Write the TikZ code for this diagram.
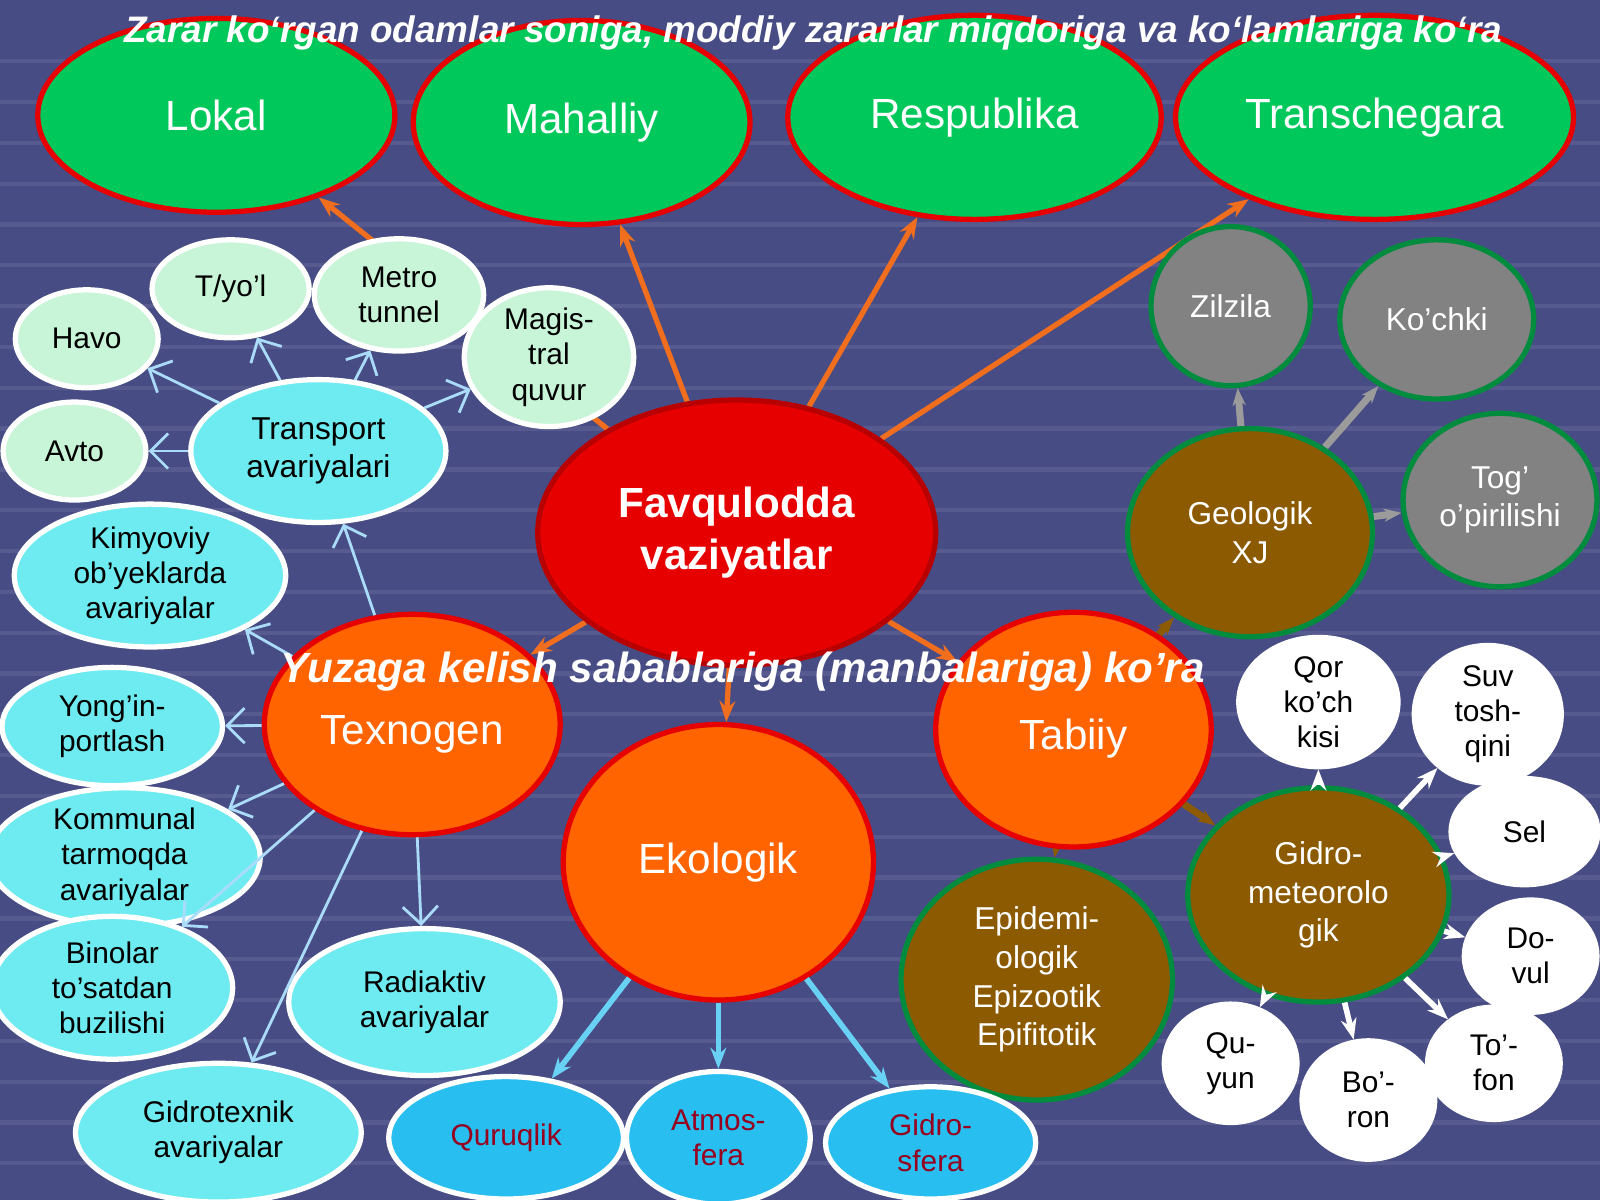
\documentclass[tikz,border=0pt]{standalone}
\usepackage{fontspec}
\setmainfont{Liberation Sans}
\usetikzlibrary{shapes.geometric,arrows.meta}
\pgfdeclarelayer{bgl}\pgfdeclarelayer{edges}
\pgfsetlayers{bgl,edges,main}
\definecolor{bg}{RGB}{72,76,132}
\definecolor{gr}{RGB}{0,200,90}
\definecolor{rd}{RGB}{230,0,0}
\definecolor{orn}{RGB}{255,100,0}
\definecolor{brn}{RGB}{140,90,0}
\definecolor{gry}{RGB}{130,130,130}
\definecolor{cy}{RGB}{110,235,240}
\definecolor{pg}{RGB}{200,245,215}
\definecolor{bl}{RGB}{40,190,240}
\definecolor{dred}{RGB}{150,0,30}
\definecolor{arr}{RGB}{240,110,30}
\definecolor{lb}{RGB}{170,220,250}
\begin{document}
\begin{tikzpicture}[x=0.010204cm,y=-0.010204cm,
 el/.style 2 args={ellipse,inner sep=0pt,align=center,line width=1.5pt,minimum width=#1*0.010204cm,minimum height=#2*0.010204cm},
 G/.style={fill=gr,draw=rd,text=white,font=\fontsize{12}{14}\selectfont},
 O/.style={fill=orn,draw=rd,text=white,font=\fontsize{12}{14}\selectfont},
 B/.style={fill=brn,draw=gr!70!black,text=white,font=\fontsize{9}{11}\selectfont},
 Y/.style={fill=gry,draw=gr!70!black,text=white,font=\fontsize{9}{11}\selectfont},
 C/.style={fill=cy,draw=white,line width=0.8pt,text=black,font=\fontsize{8.5}{10}\selectfont},
 P/.style={fill=pg,draw=white,line width=0.8pt,text=black,font=\fontsize{8.5}{10}\selectfont},
 L/.style={fill=bl,draw=white,line width=0.8pt,text=dred,font=\fontsize{8.5}{10}\selectfont},
 W/.style={fill=white,draw=white,text=black,font=\fontsize{8.5}{10}\selectfont},
 oa/.style={draw=arr,line width=1.5pt,-{Stealth[length=6pt]}},
 ca/.style={draw=lb,line width=0.8pt,-{Straight Barb[length=5pt]}},
 ba/.style={draw=bl!70!white,line width=1.6pt,-{Stealth[length=6pt]}},
 wa/.style={draw=white,line width=1.6pt,-{Stealth[length=6pt]}},
 ga/.style={draw=gry!80!white,line width=2pt,-{Stealth[length=5pt]}},
 bra/.style={draw=brn,line width=2pt,-{Stealth[length=5pt]}}]
\useasboundingbox (0,0) rectangle (1568,1176);
\begin{pgfonlayer}{bgl}
\fill[bg] (0,0) rectangle (1568,1176);
\foreach \yy in {60,100,...,1160}{\draw[bg!92!white,line width=1.2pt] (0,\yy)--(1568,\yy);}
\end{pgfonlayer}
% green
\node[G,el={350}{190}] (lok) at (212,113) {Lokal};
\node[G,el={330}{200}] (mah) at (570,120) {Mahalliy};
\node[G,el={366}{200}] (res) at (955,115) {Respublika};
\node[G,el={390}{200}] (tra) at (1347,115) {Transchegara};
% center
\node[fill=rd,draw=rd!80!black,el={390}{260},text=white,font=\bfseries\fontsize{12}{15}\selectfont] (fav) at (722,522) {Favqulodda\\vaziyatlar};
\node[O,el={290}{216}] (tex) at (404,710) {\\Texnogen};
\node[O,el={304}{270}] (eko) at (704,845) {Ekologik};
\node[O,el={270}{230}] (tab) at (1052,715) {\\Tabiiy};
\node[B,el={266}{236}] (epi) at (1016,960) {Epidemi-\\ologik\\Epizootik\\Epifitotik};
\node[B,el={256}{210}] (gid) at (1292,877) {Gidro-\\meteorolo\\gik};
\node[B,el={240}{204}] (geo) at (1225,522) {Geologik\\XJ};
\node[Y,el={156}{156}] (zil) at (1206,300) {Zilzila};
\node[Y,el={190}{156}] (koc) at (1408,313) {Ko’chki};
\node[Y,el={190}{170}] (tog) at (1470,490) {Tog’\\o’pirilishi};
% transport
\node[C,el={250}{140},font=\fontsize{9}{11}\selectfont] (trn) at (312,442) {Transport\\avariyalari};
\node[P,el={140}{96}] (hav) at (85,332) {Havo};
\node[P,el={154}{96}] (tyo) at (226,283) {T/yo’l};
\node[P,el={166}{110}] (met) at (391,289) {Metro\\tunnel};
\node[P,el={166}{110}] (mag) at (538,350) {Magis-\\tral\\quvur};
\node[P,el={140}{96}] (avt) at (73,442) {Avto};
\node[C,el={266}{140}] (kim) at (147,564) {Kimyoviy\\ob’yeklarda\\avariyalar};
\node[C,el={216}{116}] (yon) at (110,712) {Yong’in-\\portlash};
\node[C,el={266}{120}] (kom) at (122,840) {Kommunal\\tarmoqda\\avariyalar};
\node[C,el={236}{140}] (bin) at (110,968) {Binolar\\to’satdan\\buzilishi};
\node[C,el={266}{144}] (rad) at (416,982) {Radiaktiv\\avariyalar};
\node[C,el={280}{136}] (gte) at (214,1110) {Gidrotexnik\\avariyalar};
\node[L,el={230}{120}] (qur) at (496,1115) {Quruqlik};
\node[L,el={180}{130}] (atm) at (704,1115) {Atmos-\\fera};
\node[L,el={206}{110}] (gsf) at (912,1120) {Gidro-\\sfera};
\node[W,el={156}{124}] (qor) at (1292,688) {Qor\\ko’ch\\kisi};
\node[W,el={144}{124}] (suv) at (1458,700) {Suv\\tosh-\\qini};
\node[W,el={144}{104}] (sel) at (1494,815) {Sel};
\node[W,el={130}{110}] (dov) at (1500,937) {Do-\\vul};
\node[W,el={130}{110}] (tof) at (1464,1042) {To’-\\fon};
\node[W,el={130}{116}] (bor) at (1341,1078) {Bo’-\\ron};
\node[W,el={130}{116}] (quy) at (1206,1042) {Qu-\\yun};
% arrows
\begin{pgfonlayer}{edges}
\draw[oa] (fav) -- (lok);
\draw[oa] (fav) -- (mah);
\draw[oa] (fav) -- (res);
\draw[oa] (fav) -- (tra);
\draw[oa] (fav) -- (tex);
\draw[oa] (fav) -- (eko);
\draw[oa] (fav) -- (tab);
\draw[bra] (tab) -- (geo);
\draw[bra] (tab) -- (epi);
\draw[bra] (tab) -- (gid);
\draw[ga] (geo) -- (zil);
\draw[ga] (geo) -- (koc);
\draw[ga] (geo) -- (tog);
\end{pgfonlayer}
\foreach \t in {hav,tyo,met,mag,avt}{\draw[ca] (trn) -- (\t);}
\draw[ca] (tex) -- (trn);
\draw[ca] (tex) -- (kim);
\draw[ca] (tex) -- (yon);
\draw[ca] (tex) -- (kom);
\draw[ca] (tex) -- (bin);
\draw[ca] (tex) -- (rad);
\draw[ca] (tex) -- (gte);
\draw[ba] (eko) -- (qur);
\draw[ba] (eko) -- (atm);
\draw[ba] (eko) -- (gsf);
\foreach \t in {qor,suv,sel,dov,tof,bor,quy}{\draw[wa] (gid) -- (\t);}
% titles
\node[text=white,font=\bfseries\itshape\fontsize{10.5}{12}\selectfont] (t1) at (797,32) {Zarar ko‘rgan odamlar soniga, moddiy zararlar miqdoriga va ko‘lamlariga ko‘ra};
\node[text=white,font=\bfseries\itshape\fontsize{12}{14}\selectfont] (t2) at (728,658) {Yuzaga kelish sabablariga (manbalariga) ko’ra};
\end{tikzpicture}
\end{document}
